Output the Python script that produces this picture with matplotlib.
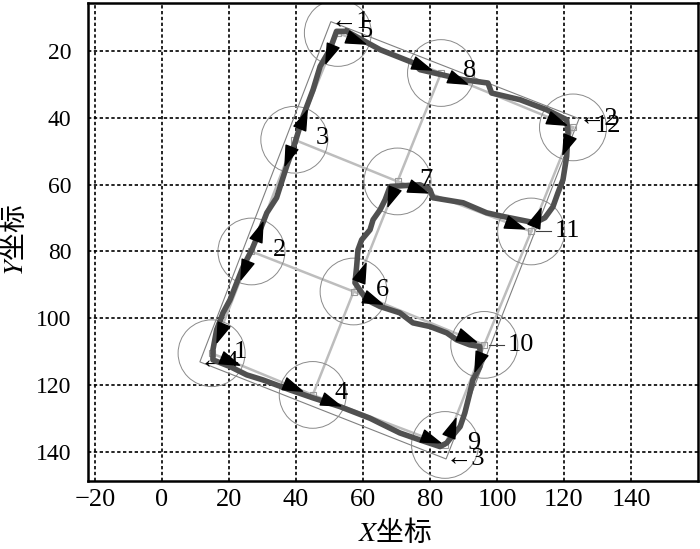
import numpy as np
import matplotlib.pyplot as plt
from matplotlib.markers import MarkerStyle
from matplotlib.path import Path
from matplotlib.patches import Circle, Polygon
from matplotlib.transforms import Affine2D

plt.rcParams['font.family'] = ['Liberation Serif', 'DejaVu Serif']
plt.rcParams['mathtext.fontset'] = 'stix'

# node positions, numbered as in the figure
node_ids = [1, 2, 3, 5, 4, 6, 7, 8, 9, 10, 11, 12]
node_x = [14.8, 26.7, 39.5, 52.5, 45.0, 57.2, 70.3, 83.3, 84.5, 96.2, 110.2, 122.7]
node_y = [110.5, 80.0, 46.5, 14.5, 123.0, 92.0, 59.0, 26.5, 138.0, 108.0, 74.0, 42.8]
radius = 10

# links between nodes
links = [(1, 2), (2, 3), (3, 5), (4, 6), (6, 7), (7, 8), (9, 10), (10, 11), (11, 12),
         (1, 4), (4, 9), (2, 6), (6, 10), (3, 7), (7, 11), (5, 8), (8, 12)]

# area boundary corners
corner_x = [50.4, 124.5, 84.8, 11.3]
corner_y = [11.1, 40.2, 142.2, 113.1]
corner_lbl = ['1', '2', '3', '4']

# tracked path
path_x = [55.1, 65.1, 74.9, 77.0, 89.9, 97.3, 98.4, 106.9, 114.8, 120.8, 121.2,
          120.8, 119.7, 118.2, 116.7, 114.3, 111.3,
          101.8, 96.9, 89.9, 80.9, 80.0, 77.0, 68.1,
          66.6, 65.1, 63.0, 62.1, 59.6, 58.5, 58.1, 57.6,
          61.1, 65.1, 71.0, 74.9, 80.0, 85.0, 88.0, 91.9, 94.9,
          94.9, 94.9, 92.8, 91.9, 90.4, 89.0, 86.5, 85.0,
          83.0, 77.0, 71.0, 65.1, 62.1, 53.1, 45.1, 38.2, 30.1, 25.3, 20.3, 15.2,
          15.2, 16.3, 18.2, 20.3, 22.3, 24.2, 26.8, 29.3, 31.3, 34.2, 37.2, 39.7,
          42.1, 45.1, 47.2, 50.1, 52.1, 55.1]
path_y = [14.0, 19.5, 23.4, 25.5, 28.5, 29.5, 32.5, 34.5, 37.5, 40.5, 44.4,
          51.5, 58.5, 62.4, 66.6, 69.9, 71.4,
          69.5, 68.4, 65.4, 63.9, 61.5, 60.0, 60.5,
          64.5, 67.5, 70.5, 73.5, 76.5, 79.5, 84.5, 89.4,
          94.5, 96.5, 98.4, 101.4, 102.5, 104.4, 106.5, 108.0, 108.5,
          110.4, 114.5, 118.5, 122.4, 128.4, 132.5, 135.5, 137.4,
          138.5, 136.5, 134.4, 131.5, 130.0, 126.5, 123.9, 121.5, 118.5, 117.0, 114.5, 112.5,
          109.5, 103.5, 98.4, 94.5, 89.4, 84.6, 79.5, 73.5, 68.4, 63.9, 54.5, 47.4,
          39.5, 31.5, 24.5, 19.5, 14.0, 14.0]

# heading arrows: (from node, to node, fraction along the link)
arrows = [(5, 8, 0.18), (5, 3, 0.2), (3, 5, 0.19), (3, 2, 0.15), (2, 3, 0.18),
          (2, 1, 0.18), (2, 1, 0.8), (1, 4, 0.18), (1, 4, 0.8), (4, 9, 0.14),
          (4, 9, 0.89), (9, 10, 0.18), (6, 10, 0.87), (10, 9, 0.17), (7, 6, 0.14),
          (7, 11, 0.15), (6, 7, 0.18), (6, 10, 0.15), (5, 8, 0.82), (8, 12, 0.13),
          (8, 12, 0.88), (12, 11, 0.17), (7, 11, 0.88), (11, 12, 0.14)]

pos = {n: (x, y) for n, x, y in zip(node_ids, node_x, node_y)}

fig = plt.figure(figsize=(7, 5.49), dpi=100)
ax = fig.add_axes([0.1257, 0.1239, 0.8714, 0.8707])
ax.set_xlim(-22.1, 160)
ax.set_ylim(148.8, 5.5)

ax.set_xticks(range(-20, 141, 20))
ax.set_yticks(range(20, 141, 20))
ax.tick_params(axis='x', labelsize=19, length=0, pad=6)
ax.tick_params(axis='y', labelsize=17, length=0, pad=12)
ax.grid(True, color='k', linestyle=(0, (2, 1.5)), linewidth=1.2)
ax.set_axisbelow(True)
for s in ax.spines.values():
    s.set_linewidth(1.8)

# links
for a, b in links:
    ax.plot([pos[a][0], pos[b][0]], [pos[a][1], pos[b][1]], color='#bdbdbd', lw=1.8, zorder=2)

# boundary
ax.add_patch(Polygon(list(zip(corner_x, corner_y)), closed=True, fill=False,
                     ec='#808080', lw=0.8, zorder=2))

# coverage circles and node markers
for x, y in zip(node_x, node_y):
    ax.add_patch(Circle((x, y), radius, fill=False, ec='#8a8a8a', lw=0.7, zorder=2))
ax.plot(node_x, node_y, 's', ms=5, mfc='none', mec='#9a9a9a', mew=0.8, zorder=3)

for cx, cy, lb in zip(corner_x, corner_y, corner_lbl):
    ax.text(cx, cy, '\u2190' + lb, fontsize=19, ha='left', va='center', zorder=3)

# path
ax.plot(path_x, path_y, color='#505050', lw=4, solid_joinstyle='round', zorder=4)

# arrows
head = Path([(1, 0), (-1, 0.65), (-1, -0.65), (1, 0)], closed=True)
for a, b, t in arrows:
    (xa, ya), (xb, yb) = pos[a], pos[b]
    px, py = xa + t * (xb - xa), ya + t * (yb - ya)
    d = ax.transData.transform([(xb, yb)]) - ax.transData.transform([(xa, ya)])
    ang = np.degrees(np.arctan2(d[0, 1], d[0, 0]))
    m = MarkerStyle(head, transform=Affine2D().rotate_deg(ang))
    ax.plot(px, py, marker=m, ms=14, color='k', zorder=6)

# node labels
for n, x, y in zip(node_ids, node_x, node_y):
    if n in (10, 11):
        ax.plot([x + 1.5, x + 6], [y, y], color='#404040', lw=0.8, zorder=5)
        ax.text(x + 7, y, str(n), fontsize=19, ha='left', va='center', zorder=7)
    else:
        ax.text(x + 6.5, y - 0.5, str(n), fontsize=19, ha='left', va='center', zorder=7)

fig.text(395 / 700, 1 - 533 / 549, r'$X$坐标', family='Noto Sans CJK SC',
         fontsize=20, ha='center', va='center')
fig.text(15 / 700, 1 - 240 / 549, r'$Y$坐标', family='Noto Sans CJK SC',
         fontsize=20, ha='center', va='center', rotation=90)

fig.savefig('out.png', dpi=100)
